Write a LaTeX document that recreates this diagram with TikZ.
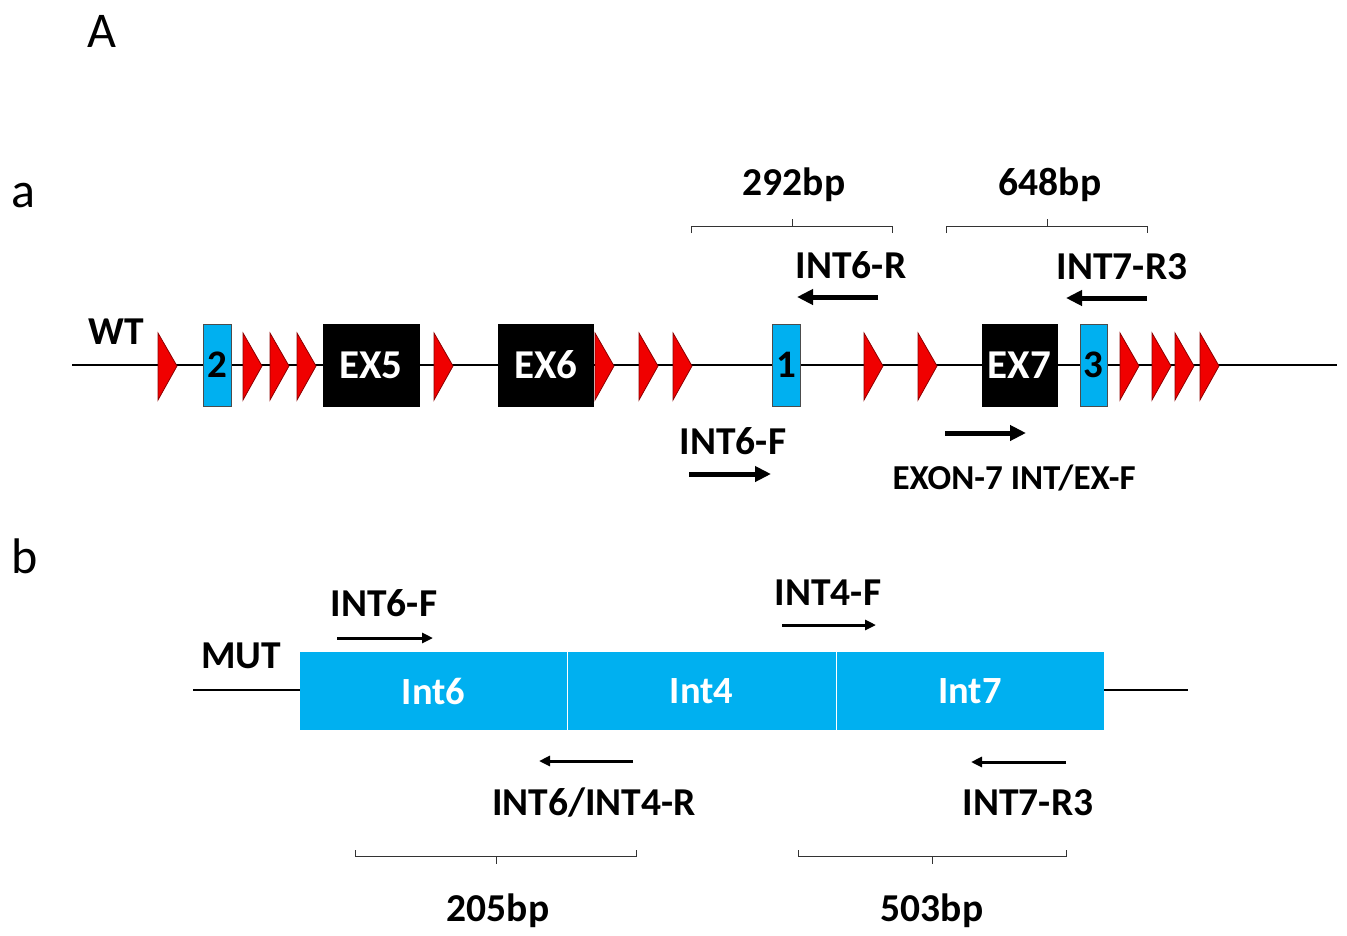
\documentclass[tikz,border=0pt]{standalone}
\usepackage{fontspec}
\setmainfont{Carlito}
\usetikzlibrary{arrows.meta}
\definecolor{exblue}{RGB}{0,176,240}
\definecolor{trired}{RGB}{240,0,0}
\begin{document}
\begin{tikzpicture}[x=1pt,y=-1pt,
  lbl/.style={font=\fontsize{39.5}{42}\selectfont\bfseries, inner sep=0pt, anchor=center},
  smalllbl/.style={font=\fontsize{35}{38}\selectfont\bfseries, inner sep=0pt, anchor=center},
  panel/.style={font=\fontsize{50}{54}\selectfont, inner sep=0pt, anchor=center},
  exonbox/.style={fill=black, draw=black, minimum width=96pt, minimum height=82pt, inner sep=0pt,
     text=white, font=\fontsize{41}{44}\selectfont\bfseries},
  smallbox/.style={fill=exblue, draw=black!70, line width=1pt, minimum width=28pt, minimum height=82pt, inner sep=0pt,
     font=\fontsize{39}{42}\selectfont\bfseries},
  intbox/.style={fill=exblue, draw=none, minimum height=78pt, inner sep=0pt,
     text=white, font=\fontsize{38.5}{42}\selectfont\bfseries},
  bigarrow/.style={line width=5pt, -{Triangle[length=16pt,width=15pt]}},
  thinarrow/.style={line width=3pt, -{Triangle[length=11pt,width=10pt]}},
  bracket/.style={line width=1pt, black!80},
  dna/.style={line width=1.3pt, black}
]
\useasboundingbox (0,0) rectangle (1347,935);

% panel labels
\node[panel] (A) at (102,31) {A};
\node[panel] (pa) at (23,196) {a};
\node[panel] (pb) at (25,556) {b};

% ---------- a: WT ----------
\coordinate (wtL) at (72,365);
\coordinate (wtR) at (1337,365);
\draw[dna] (wtL) -- (wtR);
\node[lbl] (wt) at (116,332) {WT};

\foreach \t in {158,243,270,297,434,595,639,673,864,918,1120,1152,1175,1200}{
  \filldraw[fill=trired, draw=black!45!red, line width=0.8pt] (\t,333) -- (\t+19,366) -- (\t,400) -- cycle;
}

\node[smallbox] (b2) at (217,365) {2};
\node[exonbox] (ex5) at (371,365) {EX5};
\node[exonbox, minimum width=95pt] (ex6) at (546,365) {EX6};
\node[smallbox] (b1) at (786,365) {1};
\node[exonbox, minimum width=75pt] (ex7) at (1019.5,365) {EX7};
\node[smallbox, minimum width=27pt] (b3) at (1093.5,365) {3};

% brackets above
\draw[bracket] (691,233) -- (691,226) -- (892,226) -- (892,233);
\draw[bracket] (792,226) -- (792,219);
\node[lbl] (bp292) at (794,185) {292bp};
\draw[bracket] (946,233) -- (946,226) -- (1147,226) -- (1147,233);
\draw[bracket] (1047,226) -- (1047,219);
\node[lbl] (bp648) at (1050,185) {648bp};

% primers a
\node[lbl] (int6r) at (851,265) {INT6-R};
\coordinate (int6rS) at (878,297);
\coordinate (int6rE) at (797,297);
\draw[bigarrow] (int6rS) -- (int6rE);

\node[lbl] (int7r3a) at (1122,267) {INT7-R3};
\coordinate (int7rS) at (1147,298);
\coordinate (int7rE) at (1066,298);
\draw[bigarrow] (int7rS) -- (int7rE);

\node[lbl] (int6fa) at (733,441) {INT6-F};
\coordinate (int6fS) at (689,474);
\coordinate (int6fE) at (771,474);
\draw[bigarrow] (int6fS) -- (int6fE);

\coordinate (ex7fS) at (945,433);
\coordinate (ex7fE) at (1026,433);
\draw[bigarrow] (ex7fS) -- (ex7fE);
\node[smalllbl] (ex7f) at (1014,478) {EXON-7 INT/EX-F};

% ---------- b: MUT ----------
\coordinate (mutL) at (193,690);
\coordinate (mutR) at (1188,690);
\draw[dna] (mutL) -- (mutR);
\node[lbl] (mut) at (241,656) {MUT};

\node[intbox, minimum width=267pt] (i6) at (433.5,691) {Int6};
\node[intbox, minimum width=269pt] (i4) at (701.5,691) {Int4};
\node[intbox, minimum width=268pt] (i7) at (970,691) {Int7};
\draw[white, line width=1.2pt] (i6.north east) -- (i6.south east);
\draw[white, line width=1.2pt] (i4.north east) -- (i4.south east);

\node[lbl] (int6fb) at (384,603) {INT6-F};
\coordinate (b6fS) at (337,638);
\coordinate (b6fE) at (433,638);
\draw[thinarrow] (b6fS) -- (b6fE);

\node[lbl] (int4f) at (828,593) {INT4-F};
\coordinate (b4fS) at (782,625);
\coordinate (b4fE) at (876,625);
\draw[thinarrow] (b4fS) -- (b4fE);

\coordinate (b64rS) at (633,761);
\coordinate (b64rE) at (539,761);
\draw[thinarrow] (b64rS) -- (b64rE);
\node[lbl] (int64r) at (594,803) {INT6/INT4-R};

\coordinate (b7rS) at (1066,762);
\coordinate (b7rE) at (971,762);
\draw[thinarrow] (b7rS) -- (b7rE);
\node[lbl] (int7r3b) at (1028,803) {INT7-R3};

% brackets below
\draw[bracket] (355,850) -- (355,856) -- (636,856) -- (636,850);
\draw[bracket] (496,856) -- (496,864);
\node[lbl] (bp205) at (498,911) {205bp};
\draw[bracket] (798,850) -- (798,856) -- (1066,856) -- (1066,850);
\draw[bracket] (932,856) -- (932,864);
\node[lbl] (bp503) at (932,911) {503bp};
\end{tikzpicture}
\end{document}
